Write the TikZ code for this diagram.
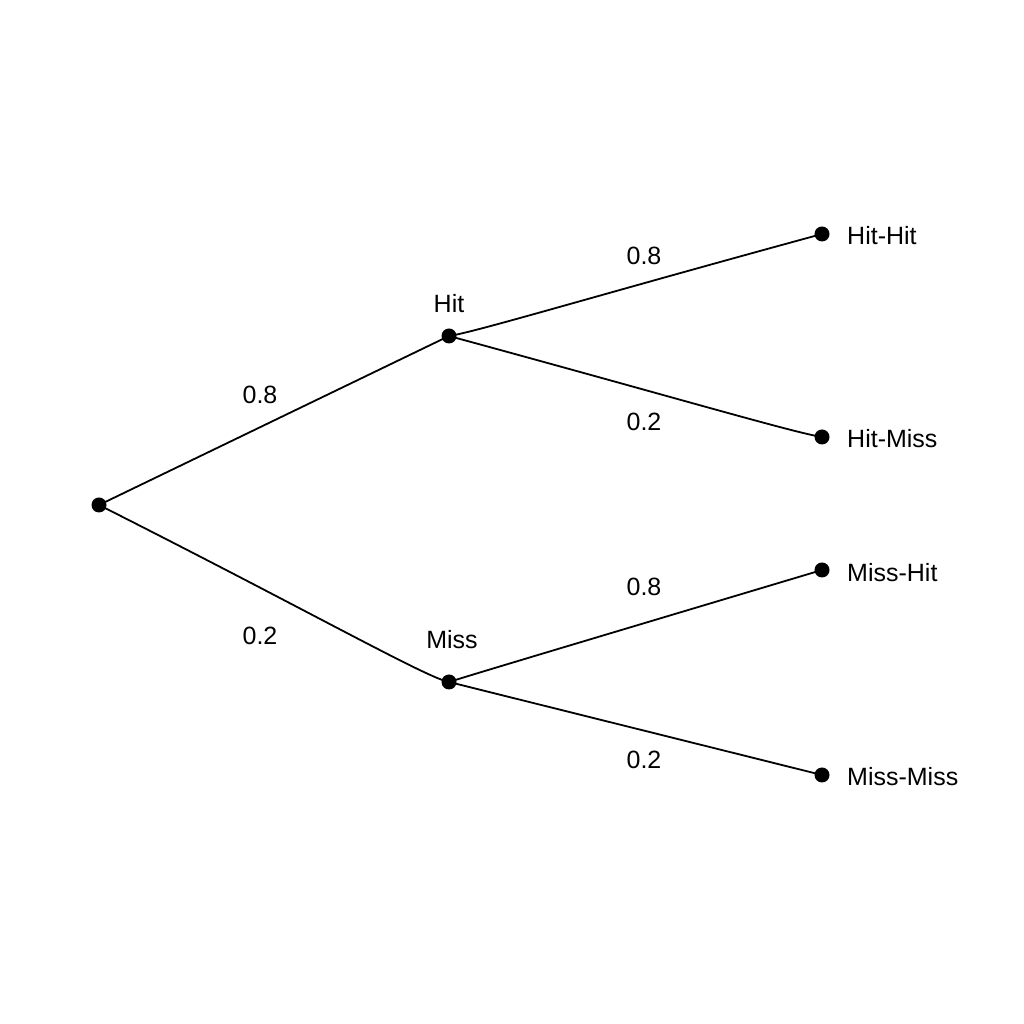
\documentclass[tikz,border=0pt]{standalone}
\usepackage{fontspec}
\setmainfont{Liberation Sans}
\begin{document}
\begin{tikzpicture}[x=1pt,y=1pt,
  dot/.style={circle,fill=black,inner sep=0pt,minimum size=15pt},
  lbl/.style={inner sep=0pt,font=\fontsize{25}{28}\selectfont},
  edge/.style={line width=1.8pt}]
\useasboundingbox[fill=white] (0,0) rectangle (1024,1024);
\node[dot] (root) at (99,519) {};
\node[dot] (hit) at (449,688) {};
\node[dot] (miss) at (449,342) {};
\node[dot] (hh) at (822,790) {};
\node[dot] (hm) at (822,587) {};
\node[dot] (mh) at (822,454) {};
\node[dot] (mm) at (822,249) {};
\draw[edge] (root.center) -- (hit.center);
\draw[edge] (root.center) .. controls (309,413) and (427,346) .. (miss.center);
\draw[edge] (hit.center) .. controls (476,692) and (598,729) .. (hh.center);
\draw[edge] (hit.center) .. controls (673,627) and (795,591) .. (hm.center);
\draw[edge] (miss.center) .. controls (474,350) and (598,387) .. (mh.center);
\draw[edge] (miss.center) -- (mm.center);
\node[lbl] (p1) at (260,629) {0.8};
\node[lbl] (p2) at (260,388) {0.2};
\node[lbl] (lhit) at (449,720) {Hit};
\node[lbl] (lmiss) at (452,384) {Miss};
\node[lbl] (p3) at (644,768) {0.8};
\node[lbl] (p4) at (644,602) {0.2};
\node[lbl] (p5) at (644,437) {0.8};
\node[lbl] (p6) at (644,264) {0.2};
\node[lbl,anchor=west] (lhh) at (847,788) {Hit-Hit};
\node[lbl,anchor=west] (lhm) at (847,585) {Hit-Miss};
\node[lbl,anchor=west] (lmh) at (847,451) {Miss-Hit};
\node[lbl,anchor=west] (lmm) at (847,247) {Miss-Miss};
\end{tikzpicture}
\end{document}
